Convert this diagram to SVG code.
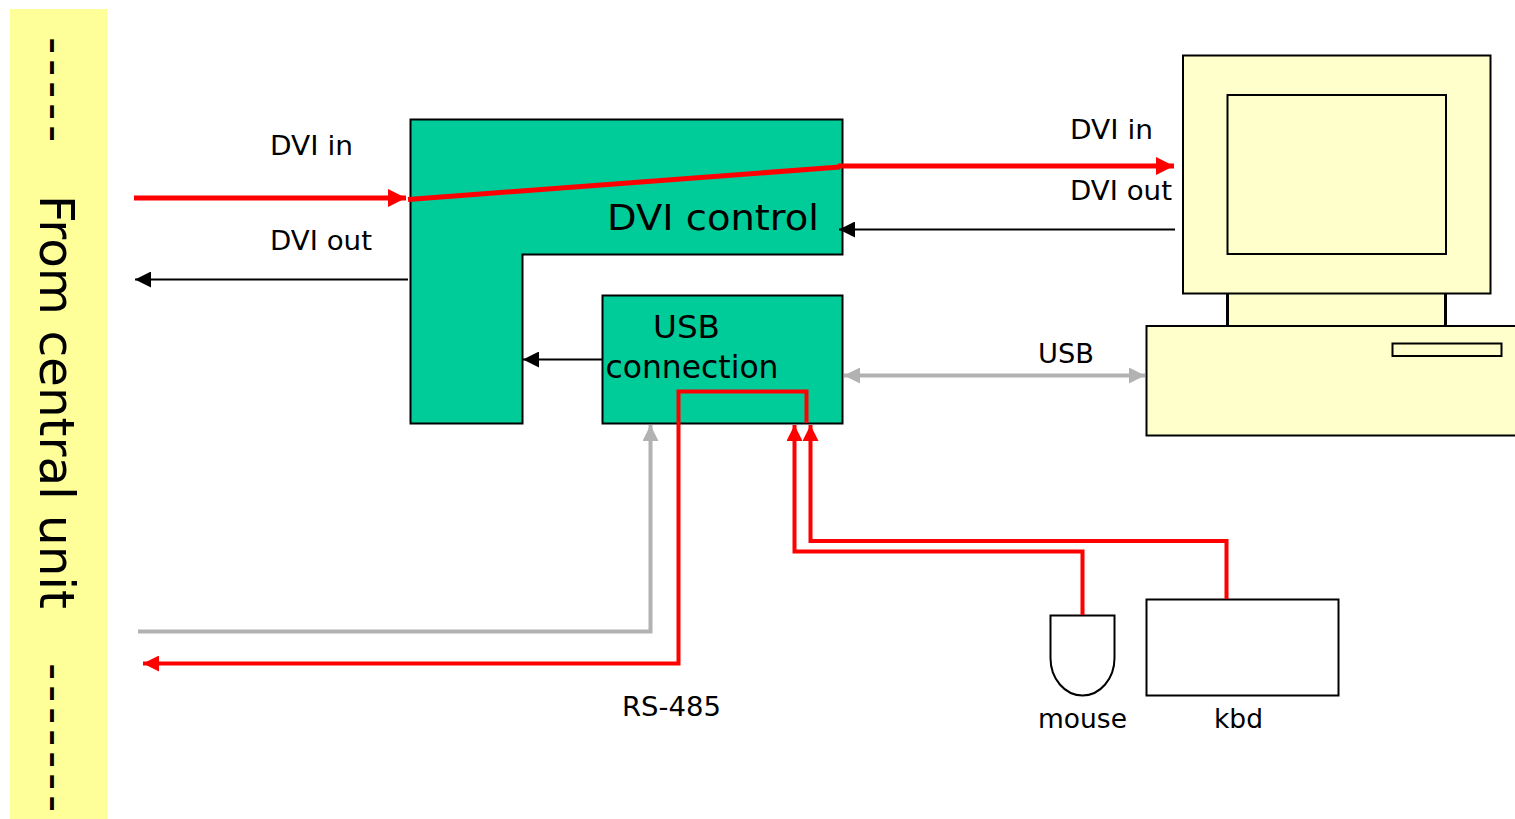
<svg xmlns="http://www.w3.org/2000/svg" width="1515" height="819" viewBox="0 0 1515 819">
<style>
text{font-family:"DejaVu Sans","Liberation Sans",sans-serif;fill:#000}
.l{font-size:26px}
.box{stroke:#000;stroke-width:2;fill:#00cc99}
.pc{stroke:#000;stroke-width:2;fill:#ffffcc}
.w{stroke:#000;stroke-width:2;fill:#fff}
.c{fill:none;stroke-linejoin:miter}
</style>
<defs>
<marker id="b" markerUnits="userSpaceOnUse" markerWidth="16" markerHeight="16" refX="16" refY="8" orient="auto-start-reverse"><path d="M0 0L16 8L0 16Z" fill="#000"/></marker>
<marker id="r" markerUnits="userSpaceOnUse" markerWidth="16" markerHeight="16" refX="16" refY="8" orient="auto-start-reverse"><path d="M0 0L16 8L0 16Z" fill="#f00"/></marker>
<marker id="R" markerUnits="userSpaceOnUse" markerWidth="18" markerHeight="18" refX="18" refY="9" orient="auto-start-reverse"><path d="M0 0L18 9L0 18Z" fill="#f00"/></marker>
<marker id="g" markerUnits="userSpaceOnUse" markerWidth="16" markerHeight="16" refX="16" refY="8" orient="auto-start-reverse"><path d="M0 0L16 8L0 16Z" fill="#b2b2b2"/></marker>
</defs>
<g id="central-unit">
<rect x="10" y="9" width="97.500" height="810" fill="#ffff99"/>
<text transform="translate(38.500,37) rotate(90)" font-size="48" letter-spacing="4.700">-----</text>
<text transform="translate(40,195) rotate(90)" font-size="48" textLength="414" lengthAdjust="spacingAndGlyphs">From central unit</text>
<text transform="translate(38.500,663) rotate(90)" font-size="48" letter-spacing="4.700">-------</text>
</g>
<g id="dvi-control">
<path class="box" d="M410.500 119.500H842.500V254.500H522.500V423.500H410.500Z"/>
<text x="607" y="230" font-size="36" textLength="212" lengthAdjust="spacingAndGlyphs">DVI control</text>
</g>
<g id="usb-connection">
<rect class="box" x="602.500" y="295.500" width="240" height="128"/>
<text x="653" y="337.500" font-size="32" textLength="67" lengthAdjust="spacingAndGlyphs">USB</text>
<text x="605.500" y="377.500" font-size="32" textLength="173" lengthAdjust="spacingAndGlyphs">connection</text>
</g>
<g id="computer">
<rect class="pc" x="1227.500" y="290" width="218" height="40" style="stroke-width:3"/>
<rect class="pc" x="1183" y="55.500" width="307.500" height="238"/>
<rect class="pc" x="1227.500" y="95" width="218.500" height="159"/>
<rect class="pc" x="1146.500" y="326" width="380" height="109.500"/>
<rect class="pc" x="1392.500" y="343.500" width="109" height="12.500"/>
</g>
<g id="mouse">
<path class="w" d="M1050.500 615.500H1114.500V658A32 37.500 0 0 1 1050.500 658Z"/>
<text x="1038" y="728" class="l" textLength="89" lengthAdjust="spacingAndGlyphs">mouse</text>
</g>
<g id="kbd">
<rect class="w" x="1146.500" y="599.500" width="192" height="96"/>
<text x="1214" y="728" class="l" textLength="49" lengthAdjust="spacingAndGlyphs">kbd</text>
</g>
<g id="connectors" class="c">
<path d="M134 198H406" stroke="#f00" stroke-width="5" marker-end="url(#R)"/>
<path d="M408 199.500L840 167" stroke="#f00" stroke-width="5"/>
<path d="M838 166H1174" stroke="#f00" stroke-width="5" marker-end="url(#R)"/>
<path d="M1175 229.500H839" stroke="#000" stroke-width="2" marker-end="url(#b)"/>
<path d="M408 279.500H135" stroke="#000" stroke-width="2" marker-end="url(#b)"/>
<path d="M602 359.500H523" stroke="#000" stroke-width="2" marker-end="url(#b)"/>
<path d="M844 375.500H1145" stroke="#b2b2b2" stroke-width="4" marker-start="url(#g)" marker-end="url(#g)"/>
<path d="M138 631.500H650.500V425" stroke="#b2b2b2" stroke-width="4" marker-end="url(#g)"/>
<path d="M806.500 423V391.500H678.500V663.500H143" stroke="#f00" stroke-width="4" marker-end="url(#r)"/>
<path d="M1082.500 615V551.500H794.500V425" stroke="#f00" stroke-width="4" marker-end="url(#r)"/>
<path d="M1226.500 599V541H810.500V425" stroke="#f00" stroke-width="4" marker-end="url(#r)"/>
</g>
<g id="labels">
<text x="270" y="155" class="l" textLength="83" lengthAdjust="spacingAndGlyphs">DVI  in</text>
<text x="270" y="250" class="l" textLength="102" lengthAdjust="spacingAndGlyphs">DVI  out</text>
<text x="1070" y="139" class="l" textLength="83" lengthAdjust="spacingAndGlyphs">DVI  in</text>
<text x="1070" y="200" class="l" textLength="102" lengthAdjust="spacingAndGlyphs">DVI  out</text>
<text x="1038" y="363" class="l" textLength="56" lengthAdjust="spacingAndGlyphs">USB</text>
<text x="622" y="716" class="l" textLength="99" lengthAdjust="spacingAndGlyphs">RS-485</text>
</g>
</svg>
